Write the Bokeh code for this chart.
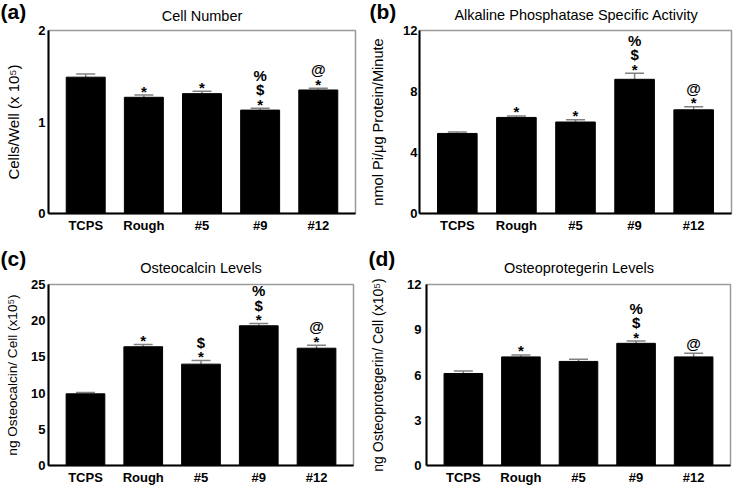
from bokeh.plotting import figure
from bokeh.models import (ColumnDataSource, FactorRange, Range1d, FixedTicker,
                          Whisker, TeeHead, Label)
from bokeh.layouts import column, row
from bokeh.embed import file_html
from bokeh.resources import INLINE
from bokeh.core.properties import value

categories = ["TCPS", "Rough", "#5", "#9", "#12"]

cell_number = [1.49, 1.27, 1.31, 1.13, 1.35]
cell_number_err = [0.035, 0.025, 0.025, 0.02, 0.02]
cell_number_marks = ["", "*", "*", "*$%", "*@"]
cell_number_ticks = [0, 1, 2]

alp_activity = [5.25, 6.3, 6.0, 8.8, 6.8]
alp_activity_err = [0.1, 0.1, 0.15, 0.4, 0.2]
alp_activity_marks = ["", "*", "*", "*$%", "*@"]
alp_activity_ticks = [0, 4, 8, 12]

osteocalcin = [9.9, 16.4, 14.0, 19.3, 16.2]
osteocalcin_err = [0.2, 0.3, 0.5, 0.3, 0.4]
osteocalcin_marks = ["", "*", "*$", "*$%", "*@"]
osteocalcin_ticks = [0, 5, 10, 15, 20, 25]

osteoprotegerin = [6.1, 7.2, 6.9, 8.1, 7.2]
osteoprotegerin_err = [0.17, 0.13, 0.15, 0.15, 0.25]
osteoprotegerin_marks = ["", "*", "", "*$%", "@"]
osteoprotegerin_ticks = [0, 3, 6, 9, 12]

FONT = "Liberation Sans"


def panel(letter, title, ylabel, vals, errs, marks, yticks, w, h, borders,
          tick_standoff, label_standoff, label_size, title_y,
          letter_standoff):
    left, right, top, bottom = borders
    ymax = yticks[-1]
    p = figure(x_range=FactorRange(factors=categories, range_padding=0.14,
                                   range_padding_units="absolute"),
               y_range=Range1d(yticks[0], ymax), width=w, height=h,
               output_backend="svg", toolbar_location=None,
               min_border_left=left, min_border_right=right,
               min_border_top=top, min_border_bottom=bottom)
    p.background_fill_color = "white"
    p.border_fill_color = "white"
    p.outline_line_color = "#9a9a9a"
    p.outline_line_width = 1.5
    p.xgrid.visible = False
    p.ygrid.visible = False

    src = ColumnDataSource(dict(cat=categories, val=vals,
                                up=[v + e for v, e in zip(vals, errs)]))
    p.vbar(x="cat", top="val", bottom=0, width=0.67, source=src,
           fill_color="black", line_color="black")
    wh = Whisker(base="cat", lower="val", upper="up", source=src,
                 dimension="height", line_color="#808080", line_width=1.5,
                 upper_head=TeeHead(size=19, line_color="#808080", line_width=1.5),
                 lower_head=None)
    p.add_layout(wh)

    mx, my, mt, mo = [], [], [], []
    for c, v, e, m in zip(categories, vals, errs, marks):
        off = 0
        for k, ch in enumerate(m):
            if k == 0:
                off = 4 if ch == "*" else 10
            else:
                off += 14.5
            mx.append(c)
            my.append(v + e)
            mt.append(ch)
            mo.append(-off)
    msrc = ColumnDataSource(dict(x=mx, y=my, t=mt, o=mo))
    p.text(x="x", y="y", text="t", y_offset="o", source=msrc,
           text_align="center", text_baseline="middle",
           text_font=value(FONT), text_font_size="15px",
           text_font_style="bold", text_color="black")

    for ax in (p.xaxis, p.yaxis):
        ax.axis_line_color = "black"
        ax.axis_line_width = 2
        ax.major_tick_line_color = None
        ax.minor_tick_line_color = None
        ax.major_tick_out = 0
        ax.major_tick_in = 0
        ax.major_label_text_font = FONT
        ax.major_label_text_font_style = "bold"
        ax.major_label_text_font_size = "13px"
        ax.major_label_text_color = "black"
    p.xaxis.major_label_standoff = 4
    p.yaxis.major_label_standoff = tick_standoff
    p.yaxis.ticker = FixedTicker(ticks=yticks)
    p.yaxis.axis_label = ylabel
    p.yaxis.axis_label_text_font = FONT
    p.yaxis.axis_label_text_font_style = "normal"
    p.yaxis.axis_label_text_font_size = label_size
    p.yaxis.axis_label_text_color = "black"
    p.yaxis.axis_label_standoff = label_standoff

    # main title: label in the panel nearest the frame
    p.add_layout(Label(x=(w - left - right) / 2, x_units="screen",
                       y=title_y, y_units="screen", text=title,
                       text_align="center", text_baseline="middle",
                       text_font=FONT, text_font_size="14.5px",
                       text_color="black"), "above")
    # panel letter: the plot title, outermost
    p.title.text = letter
    p.title.align = "left"
    p.title.offset = -left
    p.title.vertical_align = "bottom"
    p.title.standoff = letter_standoff
    p.title.text_font = FONT
    p.title.text_font_size = "21px"
    p.title.text_font_style = "bold"
    p.title.text_color = "black"
    return p


pa = panel("(a)", "Cell Number", "Cells/Well (x 10\u2075)", cell_number,
           cell_number_err, cell_number_marks, cell_number_ticks,
           367, 243, (48, 12, 30, 30), 3, 13, "15px", 15, -16)
pb = panel("(b)", "Alkaline Phosphatase Specific Activity",
           "nmol Pi/\u03bcg Protein/Minute", alp_activity, alp_activity_err,
           alp_activity_marks, alp_activity_ticks,
           367, 243, (50, 3, 30, 30), 2, 14, "14.6px", 16, -16)
pc = panel("(c)", "Osteocalcin Levels", "ng Osteocalcin/ Cell (x10\u2075)",
           osteocalcin, osteocalcin_err, osteocalcin_marks, osteocalcin_ticks,
           367, 244, (48, 14, 41, 20), 3, 8, "13.6px", 17, -2)
pd_ = panel("(d)", "Osteoprotegerin Levels",
            "ng Osteoprotegerin/ Cell (x10\u2075)", osteoprotegerin,
            osteoprotegerin_err, osteoprotegerin_marks, osteoprotegerin_ticks,
            367, 244, (58, 4, 41, 20), 5, 18, "14px", 17, -2)

layout = column(row(pa, pb), row(pc, pd_))
open("out.html", "w").write(file_html(layout, INLINE))
